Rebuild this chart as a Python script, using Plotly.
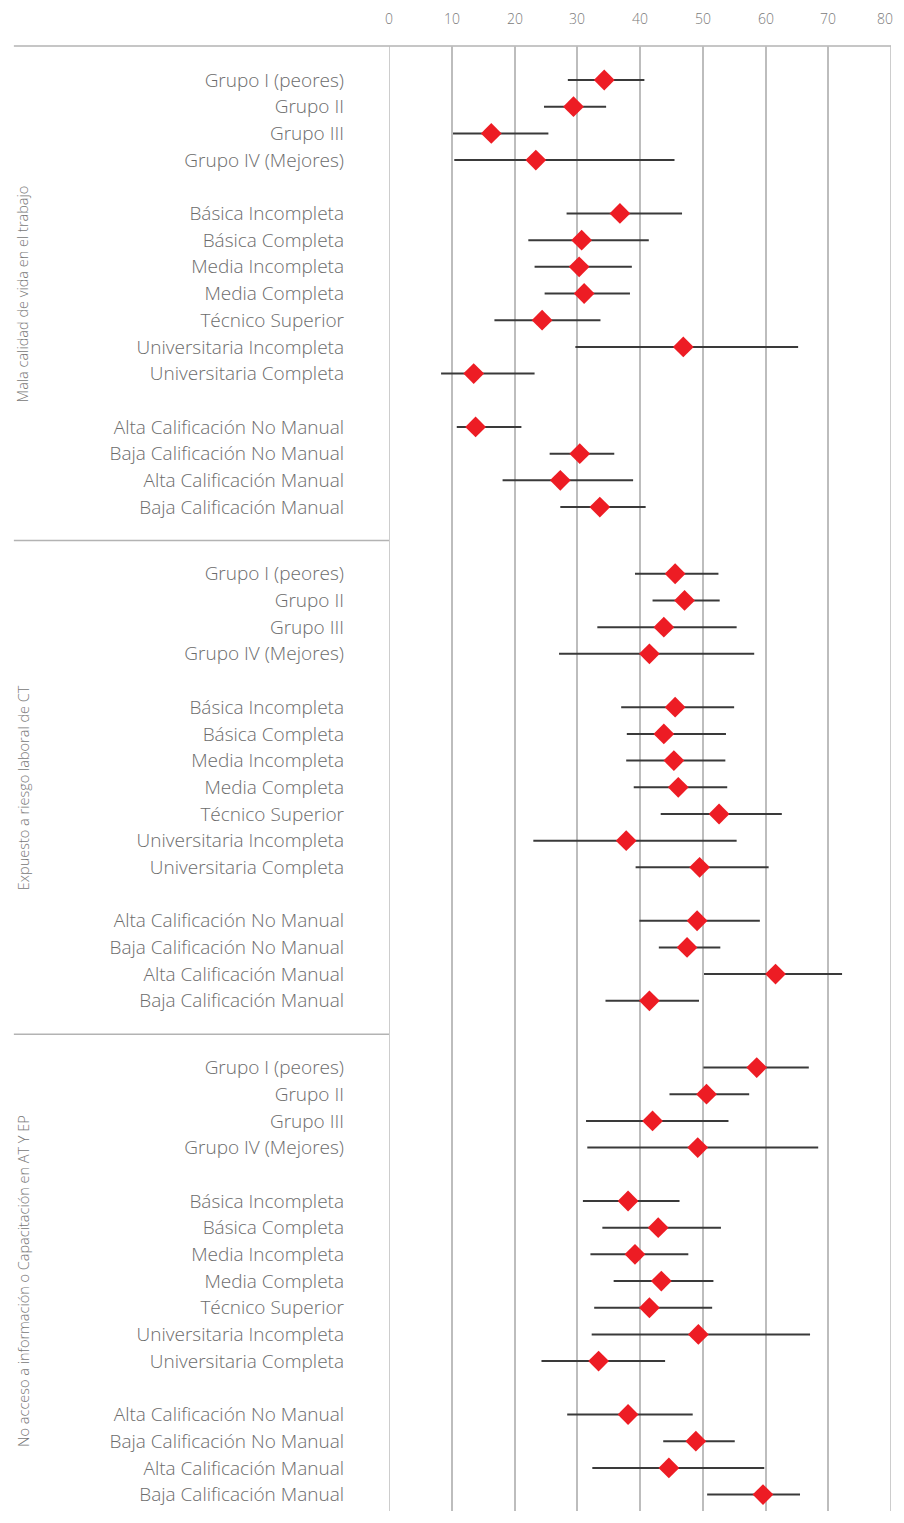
import plotly.graph_objects as go

# ---- data ----
group_labels = ["Grupo I (peores)", "Grupo II", "Grupo III", "Grupo IV (Mejores)"]
edu_labels = ["Básica Incompleta", "Básica Completa", "Media Incompleta", "Media Completa",
              "Técnico Superior", "Universitaria Incompleta", "Universitaria Completa"]
cal_labels = ["Alta Calificación No Manual", "Baja Calificación No Manual",
              "Alta Calificación Manual", "Baja Calificación Manual"]

section_titles = ["Mala calidad de vida en el trabajo",
                  "Expuesto a riesgo laboral de CT",
                  "No acceso a información o Capacitación en AT Y EP"]

# values per section: (estimate, lower, upper), order = groups + edu + cal
s1_est = [34.3, 29.4, 16.3, 23.4, 36.8, 30.7, 30.3, 31.1, 24.4, 46.9, 13.5, 13.8, 30.4, 27.3, 33.6]
s1_low = [28.5, 24.7, 10.2, 10.4, 28.3, 22.2, 23.2, 24.8, 16.8, 29.7, 8.3, 10.8, 25.6, 18.1, 27.3]
s1_up = [40.7, 34.6, 25.4, 45.5, 46.7, 41.4, 38.7, 38.4, 33.7, 65.2, 23.2, 21.1, 35.9, 38.9, 40.9]

s2_est = [45.6, 47.1, 43.8, 41.5, 45.6, 43.8, 45.4, 46.1, 52.6, 37.8, 49.5, 49.1, 47.5, 61.6, 41.5]
s2_low = [39.2, 42.0, 33.2, 27.1, 37.0, 37.9, 37.8, 39.0, 43.3, 23.0, 39.3, 39.9, 43.0, 50.2, 34.5]
s2_up = [52.5, 52.7, 55.4, 58.2, 55.0, 53.7, 53.6, 53.9, 62.6, 55.4, 60.5, 59.1, 52.8, 72.2, 49.4]

s3_est = [58.6, 50.6, 42.0, 49.2, 38.1, 42.9, 39.2, 43.4, 41.5, 49.3, 33.4, 38.1, 48.9, 44.6, 59.6]
s3_low = [50.1, 44.7, 31.4, 31.6, 30.9, 34.0, 32.1, 35.8, 32.7, 32.3, 24.3, 28.4, 43.7, 32.4, 50.7]
s3_up = [66.9, 57.4, 54.1, 68.4, 46.3, 52.9, 47.7, 51.7, 51.5, 67.1, 44.0, 48.4, 55.1, 59.8, 65.5]

x_ticks = [0, 10, 20, 30, 40, 50, 60, 70, 80]

sections = [(s1_est, s1_low, s1_up), (s2_est, s2_low, s2_up), (s3_est, s3_low, s3_up)]
row_labels = group_labels + edu_labels + cal_labels

# ---- layout helpers (page body has an 8px margin) ----
OFF = 8
W, H = 904 - 2 * OFF, 1523 - 2 * OFF - 4
ML, MT, MB = 388.5 - OFF, 46 - OFF, 0
MR = W - (891 - OFF)
slot_within = [0, 1, 2, 3, 5, 6, 7, 8, 9, 10, 11, 13, 14, 15, 16]
section_step = 18.5
row_px = 26.69
first_row_px = 80 - OFF
y_top = (MT - first_row_px) / row_px
y_bot = (H - first_row_px) / row_px

fig = go.Figure()
tickvals, ticktext = [], []
for k, (est, low, up) in enumerate(sections):
    ys = [k * section_step + s for s in slot_within]
    tickvals += ys
    ticktext += row_labels
    fig.add_trace(go.Scatter(
        x=est, y=ys, mode="markers",
        marker=dict(symbol="diamond", size=16, color="#ED1C24", line=dict(width=0)),
        error_x=dict(type="data", symmetric=False,
                     array=[u - e for u, e in zip(up, est)],
                     arrayminus=[e - l for e, l in zip(est, low)],
                     color="#3a3a3a", thickness=2, width=0),
        showlegend=False, hoverinfo="x+y",
    ))

plot_w = W - ML - MR
def px_to_paper(px):
    return (px - OFF - ML) / plot_w

grid_col = "#bdbdbd"
shapes = [
    dict(type="line", xref="paper", yref="paper", x0=px_to_paper(13), x1=1, y0=1, y1=1,
         line=dict(color="#b3b3b3", width=1.5), layer="below"),
]
for xv in (x_ticks[0], x_ticks[-1]):
    shapes.append(dict(type="line", xref="x", yref="paper", x0=xv, x1=xv, y0=0, y1=1,
                       line=dict(color=grid_col, width=1.5), layer="below"))
for k in range(1, 3):
    ysep = k * section_step - 1.25
    shapes.append(dict(type="line", xref="paper", yref="y", x0=px_to_paper(13), x1=0,
                       y0=ysep, y1=ysep, line=dict(color="#b3b3b3", width=1.5)))

annotations = []
for k, t in enumerate(section_titles):
    yc = k * section_step + 8
    annotations.append(dict(text=t, xref="paper", yref="y", x=px_to_paper(22), y=yc,
                            textangle=-90, showarrow=False, xanchor="center", yanchor="middle",
                            font=dict(family="Open Sans", size=14.5, color="#777777", weight=300)))

# x-axis tick labels as annotations (the last one kept inside the page)
tick_font = dict(family="Open Sans", size=14, color="#7a7a7a", weight=300)
for i, xv in enumerate(x_ticks):
    last = i == len(x_ticks) - 1
    annotations.append(dict(text=str(xv), xref="x", yref="paper", x=xv, y=1,
                            xanchor="right" if last else "center", yanchor="bottom",
                            xshift=MR - 1 if last else 0, yshift=16,
                            showarrow=False, font=tick_font))

fig.update_layout(
    width=W, height=H, autosize=False,
    margin=dict(l=ML, r=MR, t=MT, b=MB, pad=0, autoexpand=False),
    plot_bgcolor="white", paper_bgcolor="white",
    shapes=shapes, annotations=annotations,
    xaxis=dict(range=[0, 80], side="top", tickvals=x_ticks, showgrid=True,
               gridcolor=grid_col, gridwidth=1.5, zeroline=False, showline=False,
               ticks="", showticklabels=False, automargin=False),
    yaxis=dict(range=[y_bot, y_top], tickvals=tickvals, ticktext=ticktext,
               showgrid=False, zeroline=False, showline=False, ticks="", automargin=False,
               ticklabelstandoff=44,
               tickfont=dict(family="Open Sans", size=19, color="#6c6c6c", weight=300)),
)

fig.write_html("out.html")
